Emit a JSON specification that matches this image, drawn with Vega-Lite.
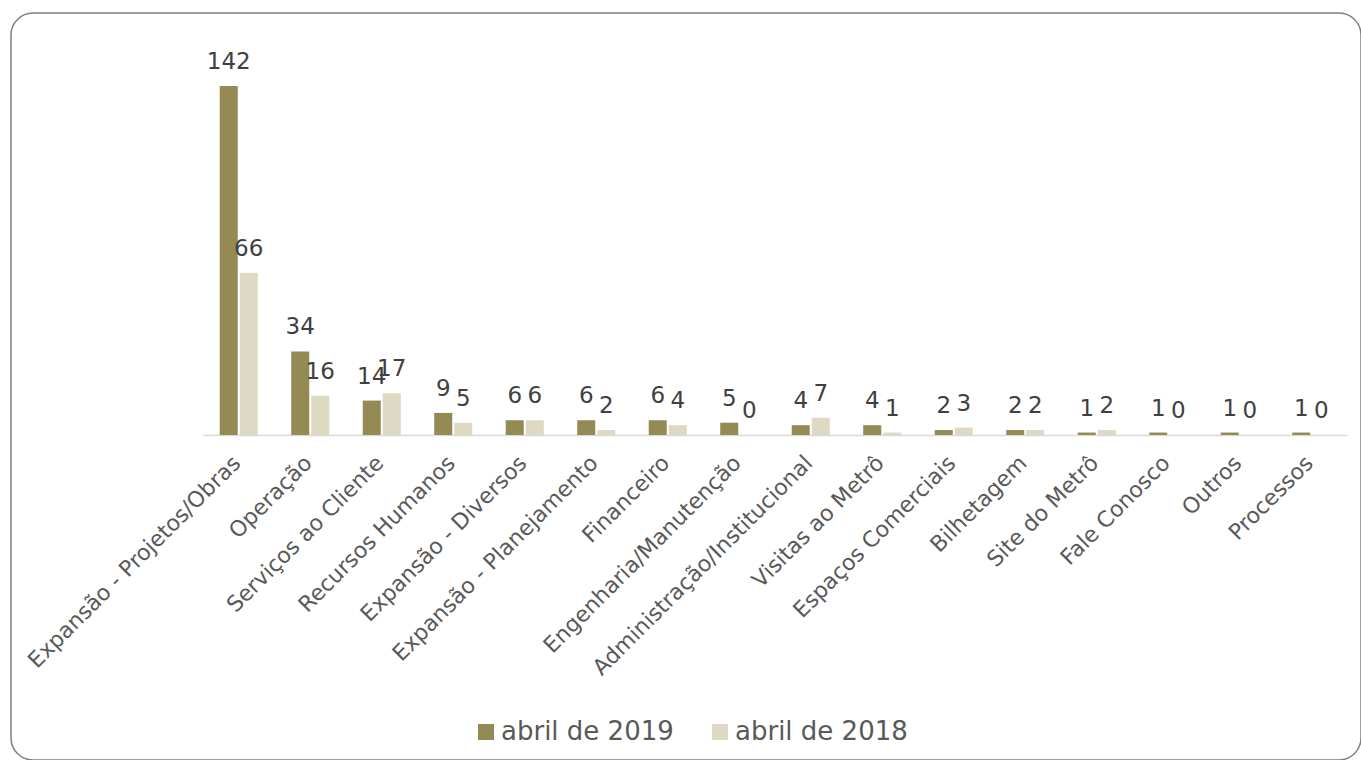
{
  "$schema": "https://vega.github.io/schema/vega-lite/v6.json",
  "autosize": {"type": "none"},
  "padding": {"left": 11, "top": 13, "right": 0, "bottom": 0},
  "width": 1350,
  "height": 747,
  "background": "#ffffff",
  "config": {
    "view": {"stroke": "#808080", "strokeWidth": 1.5, "cornerRadius": 22},
    "font": "DejaVu Sans"
  },
  "data": {
    "values": [
      {"categoria": "Expansão - Projetos/Obras", "periodo": "abril de 2019", "valor": 142},
      {"categoria": "Expansão - Projetos/Obras", "periodo": "abril de 2018", "valor": 66},
      {"categoria": "Operação", "periodo": "abril de 2019", "valor": 34},
      {"categoria": "Operação", "periodo": "abril de 2018", "valor": 16},
      {"categoria": "Serviços ao Cliente", "periodo": "abril de 2019", "valor": 14},
      {"categoria": "Serviços ao Cliente", "periodo": "abril de 2018", "valor": 17},
      {"categoria": "Recursos Humanos", "periodo": "abril de 2019", "valor": 9},
      {"categoria": "Recursos Humanos", "periodo": "abril de 2018", "valor": 5},
      {"categoria": "Expansão - Diversos", "periodo": "abril de 2019", "valor": 6},
      {"categoria": "Expansão - Diversos", "periodo": "abril de 2018", "valor": 6},
      {"categoria": "Expansão - Planejamento", "periodo": "abril de 2019", "valor": 6},
      {"categoria": "Expansão - Planejamento", "periodo": "abril de 2018", "valor": 2},
      {"categoria": "Financeiro", "periodo": "abril de 2019", "valor": 6},
      {"categoria": "Financeiro", "periodo": "abril de 2018", "valor": 4},
      {"categoria": "Engenharia/Manutenção", "periodo": "abril de 2019", "valor": 5},
      {"categoria": "Engenharia/Manutenção", "periodo": "abril de 2018", "valor": 0},
      {"categoria": "Administração/Institucional", "periodo": "abril de 2019", "valor": 4},
      {"categoria": "Administração/Institucional", "periodo": "abril de 2018", "valor": 7},
      {"categoria": "Visitas ao Metrô", "periodo": "abril de 2019", "valor": 4},
      {"categoria": "Visitas ao Metrô", "periodo": "abril de 2018", "valor": 1},
      {"categoria": "Espaços Comerciais", "periodo": "abril de 2019", "valor": 2},
      {"categoria": "Espaços Comerciais", "periodo": "abril de 2018", "valor": 3},
      {"categoria": "Bilhetagem", "periodo": "abril de 2019", "valor": 2},
      {"categoria": "Bilhetagem", "periodo": "abril de 2018", "valor": 2},
      {"categoria": "Site do Metrô", "periodo": "abril de 2019", "valor": 1},
      {"categoria": "Site do Metrô", "periodo": "abril de 2018", "valor": 2},
      {"categoria": "Fale Conosco", "periodo": "abril de 2019", "valor": 1},
      {"categoria": "Fale Conosco", "periodo": "abril de 2018", "valor": 0},
      {"categoria": "Outros", "periodo": "abril de 2019", "valor": 1},
      {"categoria": "Outros", "periodo": "abril de 2018", "valor": 0},
      {"categoria": "Processos", "periodo": "abril de 2019", "valor": 1},
      {"categoria": "Processos", "periodo": "abril de 2018", "valor": 0}
    ]
  },
  "encoding": {
    "x": {
      "field": "categoria",
      "type": "nominal",
      "sort": null,
      "scale": {"range": [192, 1336], "paddingInner": 0.468, "paddingOuter": 0.234},
      "axis": {
        "title": null,
        "orient": "bottom",
        "offset": -325,
        "labelAngle": -45,
        "labelAlign": "right",
        "labelBaseline": "top",
        "labelFontSize": 22,
        "labelColor": "#595959",
        "labelPadding": 17,
        "labelOffset": -9,
        "labelLimit": 0,
        "ticks": false,
        "domainColor": "#D9D9D9",
        "domainWidth": 1.5
      }
    },
    "xOffset": {
      "field": "periodo",
      "type": "nominal",
      "sort": ["abril de 2019", "abril de 2018"],
      "scale": {"paddingInner": 0.1}
    },
    "y": {
      "field": "valor",
      "type": "quantitative",
      "scale": {"domain": [0, 142], "range": [422, 73], "nice": false},
      "axis": null
    }
  },
  "layer": [
    {
      "mark": {"type": "bar"},
      "encoding": {
        "color": {
          "field": "periodo",
          "type": "nominal",
          "sort": ["abril de 2019", "abril de 2018"],
          "scale": {"domain": ["abril de 2019", "abril de 2018"], "range": ["#948A54", "#DDD9C3"]},
          "legend": {
            "title": null,
            "orient": "none",
            "legendX": 462,
            "legendY": 706,
            "direction": "horizontal",
            "symbolType": "square",
            "symbolSize": 256,
            "symbolStrokeWidth": 0,
            "labelFontSize": 26,
            "labelColor": "#595959",
            "labelOffset": 2,
            "labelLimit": 0,
            "columnPadding": 33,
            "padding": 0
          }
        }
      }
    },
    {
      "mark": {"type": "text", "baseline": "middle", "dy": -24, "fontSize": 23, "color": "#404040"},
      "encoding": {
        "text": {"field": "valor", "type": "quantitative"}
      }
    }
  ]
}
